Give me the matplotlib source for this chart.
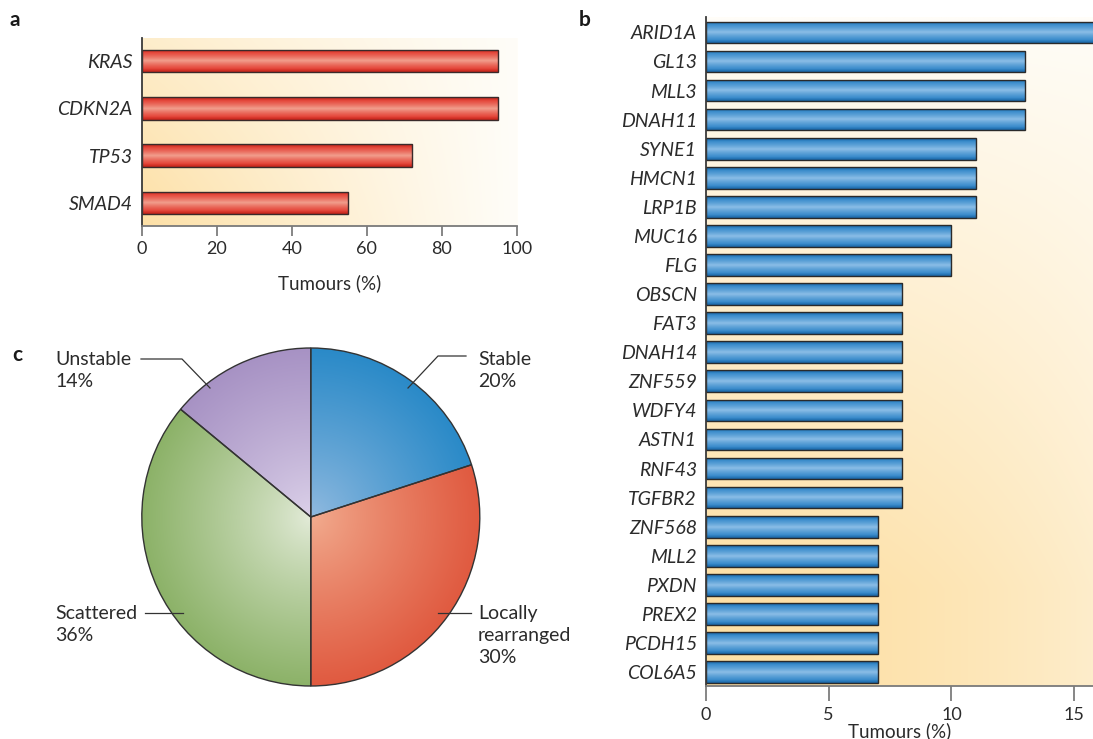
import numpy as np
import matplotlib
matplotlib.use('Agg')
import matplotlib.pyplot as plt
from matplotlib.colors import to_rgb

plt.rcParams['font.family'] = ['Lato', 'DejaVu Sans']

# Panel a: frequently mutated genes
genes_a = ['KRAS', 'CDKN2A', 'TP53', 'SMAD4']
pct_a = [95, 95, 72, 55]

# Panel b: less frequently mutated genes
genes_b = ['ARID1A', 'GL13', 'MLL3', 'DNAH11', 'SYNE1', 'HMCN1', 'LRP1B', 'MUC16', 'FLG',
           'OBSCN', 'FAT3', 'DNAH14', 'ZNF559', 'WDFY4', 'ASTN1', 'RNF43', 'TGFBR2',
           'ZNF568', 'MLL2', 'PXDN', 'PREX2', 'PCDH15', 'COL6A5']
pct_b = [16, 13, 13, 13, 11, 11, 11, 10, 10, 8, 8, 8, 8, 8, 8, 8, 8, 7, 7, 7, 7, 7, 7]

# Panel c: structural variation subtypes
classes = ['Stable', 'Locally\nrearranged', 'Scattered', 'Unstable']
shares = [20, 30, 36, 14]

W, H = 1093, 739
TXT = '#2b2b2b'


def mix(c1, c2, t):
    c1 = np.array(to_rgb(c1))
    c2 = np.array(to_rgb(c2))
    t = np.asarray(t, dtype=float)[..., None]
    return c1 * (1 - t) + c2 * t


def px_axes(fig, x0, y0, x1, y1):
    # pixel box (top-left origin) -> figure fraction
    return fig.add_axes([x0 / W, 1 - y1 / H, (x1 - x0) / W, (y1 - y0) / H])


def backdrop(ax, weight):
    ys, xs = np.mgrid[0:1:200j, 0:1:200j]
    img = mix('#fffdf8', '#fde0a6', np.clip(weight(xs, ys), 0, 1))
    ax.imshow(img, extent=(0, 1, 0, 1), transform=ax.transAxes, origin='lower',
              aspect='auto', zorder=0, interpolation='bilinear')
    ax.patch.set_visible(False)


def shade_bars(ax, bars, base, light, dark):
    s = np.linspace(0, 1, 80)
    d = np.abs(2 * s - 1)
    col = mix(base, light, 0.9 * (1 - d) ** 1.4)
    e = np.clip((d - 0.7) / 0.3, 0, 1)[:, None] * 0.55
    col = col * (1 - e) + np.array(to_rgb(dark)) * e
    img = col[:, None, :]
    for b in bars:
        x0, y0 = b.get_x(), b.get_y()
        x1, y1 = x0 + b.get_width(), y0 + b.get_height()
        im = ax.imshow(img, extent=(x0, x1, y0, y1), aspect='auto', zorder=1.5,
                       interpolation='bilinear')
        im.set_clip_path(b)
        b.set_facecolor('none')
        b.set_zorder(2)


def style_bar_axes(ax, labels):
    for side in ['top', 'right']:
        ax.spines[side].set_visible(False)
    ax.spines['left'].set_color('#3a3a3a')
    ax.spines['left'].set_linewidth(1.3)
    ax.spines['bottom'].set_color('#7a7a7a')
    ax.spines['bottom'].set_linewidth(1.3)
    ax.tick_params(axis='y', length=0, pad=6.5)
    ax.tick_params(axis='x', length=7, width=1.1, color='#666666', pad=4,
                   labelsize=13, labelcolor=TXT)
    ax.set_yticks(range(len(labels)))
    ax.set_yticklabels(labels, fontstyle='italic', fontsize=14, color=TXT)


fig = plt.figure(figsize=(W / 100, H / 100), dpi=100)

# ---- panel a
ax_a = px_axes(fig, 141.7, 38, 517, 226)
backdrop(ax_a, lambda x, y: (1 - x) ** 1.1 * (1 - 0.45 * y))
pos_a = np.arange(len(genes_a))
bars_a = ax_a.barh(pos_a, pct_a, height=0.48, edgecolor='#3a2a2a', linewidth=1.0)
shade_bars(ax_a, bars_a, '#e2352a', '#f3aa98', '#a8180f')
style_bar_axes(ax_a, genes_a)
ax_a.set_xticks([0, 20, 40, 60, 80, 100])
ax_a.set_xlim(0, 100)
ax_a.set_ylim(3.49, -0.49)
ax_a.set_xlabel('Tumours (%)', fontsize=13.5, color=TXT, va='center')
ax_a.xaxis.set_label_coords(0.5, -0.303)

# ---- panel b
ax_b = px_axes(fig, 706, 17, 1093, 686)
backdrop(ax_b, lambda x, y: np.clip(1.15 * (1 - y) ** 0.9, 0, 1) * (1 - 0.45 * x ** 2))
pos_b = np.arange(len(genes_b))
bars_b = ax_b.barh(pos_b, pct_b, height=0.745, edgecolor='#2a2a2a', linewidth=1.0)
shade_bars(ax_b, bars_b, '#2a82c6', '#96c4ea', '#0f4f8a')
style_bar_axes(ax_b, genes_b)
ax_b.set_xticks([0, 5, 10, 15])
ax_b.set_xlim(0, 15.77)
ax_b.set_ylim(22.48, -0.53)
ax_b.tick_params(axis='x', length=11)
ax_b.set_xlabel('Tumours (%)', fontsize=13.5, color=TXT, va='center')
ax_b.xaxis.set_label_coords(0.5, -0.068)

# ---- panel c
R = 169.0
ax_c = px_axes(fig, 310.8 - R, 517 - R, 310.8 + R, 517 + R)
wedges, _ = ax_c.pie(shares, startangle=90, counterclock=False, radius=1,
                     wedgeprops=dict(edgecolor='#333333', linewidth=1.0))
pie_shades = [('#93bbe0', '#2a8ac8'), ('#f2ad90', '#e05a40'),
              ('#e4ecda', '#8cb268'), ('#ddd3ea', '#a792c4')]
yy, xx = np.mgrid[-1:1:300j, -1:1:300j]
rr = np.clip(np.hypot(xx, yy), 0, 1)
for w, (c_in, c_out) in zip(wedges, pie_shades):
    im = ax_c.imshow(mix(c_in, c_out, rr ** 0.85), extent=(-1, 1, -1, 1), origin='lower',
                     zorder=0.9, interpolation='bilinear')
    im.set_clip_path(w)
    w.set_facecolor('none')
    w.set_zorder(2)
ax_c.set_xlim(-1, 1)
ax_c.set_ylim(-1, 1)
ax_c.set_aspect('auto')
ax_c.axis('off')


def p2d(px, py):
    return (px - 310.8) / R, (517 - py) / R


# label anchor (pixel, first line) and leader line points (pixel)
label_layout = [
    dict(xy=(478, 359), line=[(466, 356), (438, 356), (408, 388)]),
    dict(xy=(478, 613), line=[(471, 613), (438, 613)]),
    dict(xy=(55, 613), line=[(145, 613), (183, 613)]),
    dict(xy=(55, 359), line=[(141, 359), (182, 359), (210, 388)]),
]
LINE_PITCH = 22
for name, share, lay in zip(classes, shares, label_layout):
    rows = name.split('\n') + [f'{share}%']
    for k, row in enumerate(rows):
        tx, ty = p2d(lay['xy'][0], lay['xy'][1] + 6 + k * LINE_PITCH)
        ax_c.text(tx, ty, row, fontsize=14, color=TXT, ha='left', va='baseline',
                  clip_on=False)
    pts = np.array([p2d(*p) for p in lay['line']])
    ax_c.plot(pts[:, 0], pts[:, 1], color='#333333', lw=0.9, clip_on=False, zorder=3)

# panel letters
for letter, (px, py) in zip('abc', [(15, 20), (585, 20), (17, 355)]):
    fig.text(px / W, 1 - py / H, letter, fontsize=15, fontweight='bold', color='#1a1a1a',
             ha='center', va='center')

fig.savefig('out.png', dpi=100)
